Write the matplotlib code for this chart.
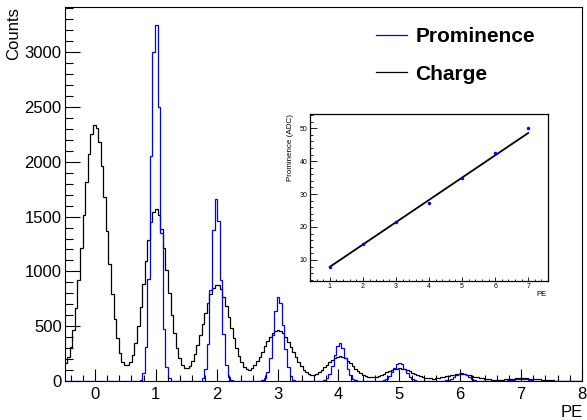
import numpy as np
import matplotlib
matplotlib.use("Agg")
import matplotlib.pyplot as plt
from matplotlib.lines import Line2D
from matplotlib.ticker import MultipleLocator

# binning of both histograms (200 bins over the PE axis)
pe_lo, pe_hi, n_bins = -0.5, 8.0, 200

# bin contents
charge_counts = [
    160, 215, 310, 462, 668, 921, 1212, 1519, 1817, 2071,
    2253, 2336, 2310, 2179, 1959, 1680, 1373, 1071, 798, 568,
    389, 259, 177, 150, 150, 175, 240, 350, 498, 679,
    883, 1095, 1291, 1449, 1545, 1568, 1514, 1390, 1214, 1009,
    799, 602, 434, 302, 207, 148, 120, 118, 140, 184,
    247, 325, 417, 519, 621, 716, 796, 852, 878, 873,
    835, 770, 685, 587, 485, 388, 302, 230, 175, 125,
    105, 102, 115, 142, 181, 222, 266, 316, 363, 405,
    438, 458, 465, 457, 436, 403, 360, 313, 263, 215,
    171, 134, 103, 80, 65, 58, 59, 67, 82, 102,
    125, 148, 173, 196, 213, 223, 225, 220, 206, 187,
    163, 137, 112, 89, 69, 53, 42, 35, 32, 34,
    38, 46, 55, 67, 79, 91, 102, 110, 114, 116,
    114, 108, 100, 89, 77, 65, 55, 45, 36, 30,
    25, 23, 22, 24, 27, 32, 36, 42, 48, 53,
    57, 60, 62, 62, 60, 57, 52, 47, 41, 36,
    31, 26, 22, 18, 15, 12, 11, 10, 11, 13,
    16, 18, 20, 22, 23, 24, 24, 24, 23, 22,
    20, 18, 16, 14, 11, 9, 8, 6, 5, 4,
    4, 3, 3, 3, 3, 2, 3, 2, 2, 2,
]

prominence_counts = [
    0, 0, 0, 0, 0, 0, 0, 0, 0, 0,
    0, 0, 0, 0, 0, 0, 0, 0, 0, 0,
    0, 0, 0, 0, 0, 0, 0, 0, 0, 12,
    72, 308, 933, 2050, 3000, 3250, 2500, 1350, 475, 125,
    23, 3, 0, 0, 0, 0, 0, 0, 0, 0,
    0, 0, 4, 24, 105, 340, 827, 1377, 1665, 1457,
    926, 427, 143, 35, 6, 0, 0, 0, 0, 0,
    0, 0, 0, 0, 0, 0, 6, 26, 84, 213,
    419, 642, 770, 712, 515, 290, 127, 44, 12, 3,
    0, 0, 0, 0, 0, 0, 0, 0, 0, 2,
    8, 25, 66, 139, 235, 318, 345, 298, 206, 114,
    51, 18, 5, 1, 0, 0, 0, 0, 0, 0,
    0, 0, 2, 7, 19, 42, 78, 121, 156, 168,
    151, 113, 71, 37, 16, 6, 2, 0, 0, 0,
    0, 0, 0, 0, 0, 1, 2, 5, 12, 22,
    37, 53, 66, 70, 64, 51, 34, 20, 10, 4,
    2, 1, 0, 0, 0, 0, 0, 0, 1, 2,
    3, 5, 7, 11, 14, 16, 17, 16, 14, 10,
    7, 4, 2, 1, 0, 0, 0, 0, 0, 0,
    0, 0, 0, 0, 0, 0, 0, 0, 0, 0,
]

# inset: prominence peak position vs PE and its linear fit
inset_pe = [1, 2, 3, 4, 5, 6, 7]
inset_prom = [7.95, 14.9, 21.5, 27.4, 34.9, 42.4, 50.0]
fit_slope, fit_intercept = 6.77, 1.13

plt.rcParams["font.family"] = ["Liberation Sans", "DejaVu Sans"]

W, H = 587, 420
fig = plt.figure(figsize=(W / 100, H / 100), dpi=100)


def px_box(x0, y0, x1, y1):
    # pixel box (top-left origin) -> figure fraction rect
    return [x0 / W, 1 - y1 / H, (x1 - x0) / W, (y1 - y0) / H]


ax = fig.add_axes(px_box(64.5, 7, 582, 381))
edges = np.linspace(pe_lo, pe_hi, n_bins + 1)
ax.stairs(charge_counts, edges, baseline=None, color="black", lw=0.9)
ax.stairs(prominence_counts, edges, baseline=None, color="#0000ff", lw=0.9)
ax.set_xlim(pe_lo, pe_hi)
ax.set_ylim(0, 1.05 * max(prominence_counts))

ax.xaxis.set_major_locator(MultipleLocator(1))
ax.xaxis.set_minor_locator(MultipleLocator(0.2))
ax.yaxis.set_major_locator(MultipleLocator(500))
ax.yaxis.set_minor_locator(MultipleLocator(100))
ax.tick_params(axis="y", which="major", direction="in", length=10.8, width=0.8,
               labelsize=12, pad=2, right=False)
ax.tick_params(axis="y", which="minor", direction="in", length=5.4, width=0.8, right=False)
ax.tick_params(axis="x", which="major", direction="in", length=8.6, width=0.8,
               labelsize=12, pad=4, top=False)
ax.tick_params(axis="x", which="minor", direction="in", length=4.3, width=0.8, top=False)
for sp in ax.spines.values():
    sp.set_linewidth(0.8)

fig.text(13.5 / W, 1 - 7 / H, "Counts", rotation=90, ha="center", va="top", fontsize=12)
fig.text(583 / W, 1 - 412.5 / H, "PE", ha="right", va="center", fontsize=12)

handles = [Line2D([], [], color="#0000ff", lw=0.9), Line2D([], [], color="black", lw=0.9)]
ax.legend(handles, ["Prominence", "Charge"], loc="upper left",
          bbox_to_anchor=(376 / W, 1 - 27 / H), bbox_transform=fig.transFigure,
          frameon=False, prop={"weight": "bold", "size": 15},
          handlelength=1.5, handletextpad=0.38, labelspacing=0.9,
          borderpad=0, borderaxespad=0)

# inset graph
axi = fig.add_axes(px_box(310, 114, 548, 281))
axi.plot(inset_pe, inset_prom, "o", color="#0000ff", ms=2.5, mew=0, zorder=3)
xf = np.array([inset_pe[0], inset_pe[-1]])
axi.plot(xf, fit_slope * xf + fit_intercept, color="black", lw=1.3)
axi.set_xlim(0.4, 7.6)
axi.set_ylim(3.6, 54.3)
axi.xaxis.set_major_locator(MultipleLocator(1))
axi.xaxis.set_minor_locator(MultipleLocator(0.2))
axi.yaxis.set_major_locator(MultipleLocator(10))
axi.yaxis.set_minor_locator(MultipleLocator(2))
axi.tick_params(axis="y", which="major", direction="in", length=4.8, width=0.6,
                labelsize=5, pad=2, right=False)
axi.tick_params(axis="y", which="minor", direction="in", length=2.4, width=0.6, right=False)
axi.tick_params(axis="x", which="major", direction="in", length=3, width=0.6,
                labelsize=5, pad=1.5, top=False)
axi.tick_params(axis="x", which="minor", direction="in", length=1.5, width=0.6, top=False)
for sp in axi.spines.values():
    sp.set_linewidth(0.9)

fig.text(290 / W, 1 - 114 / H, "Prominence (ADC)", rotation=90, ha="center", va="top", fontsize=5.8)
fig.text(547 / W, 1 - 295 / H, "PE", ha="right", va="center", fontsize=5.5)

fig.savefig("out.png", dpi=100)
